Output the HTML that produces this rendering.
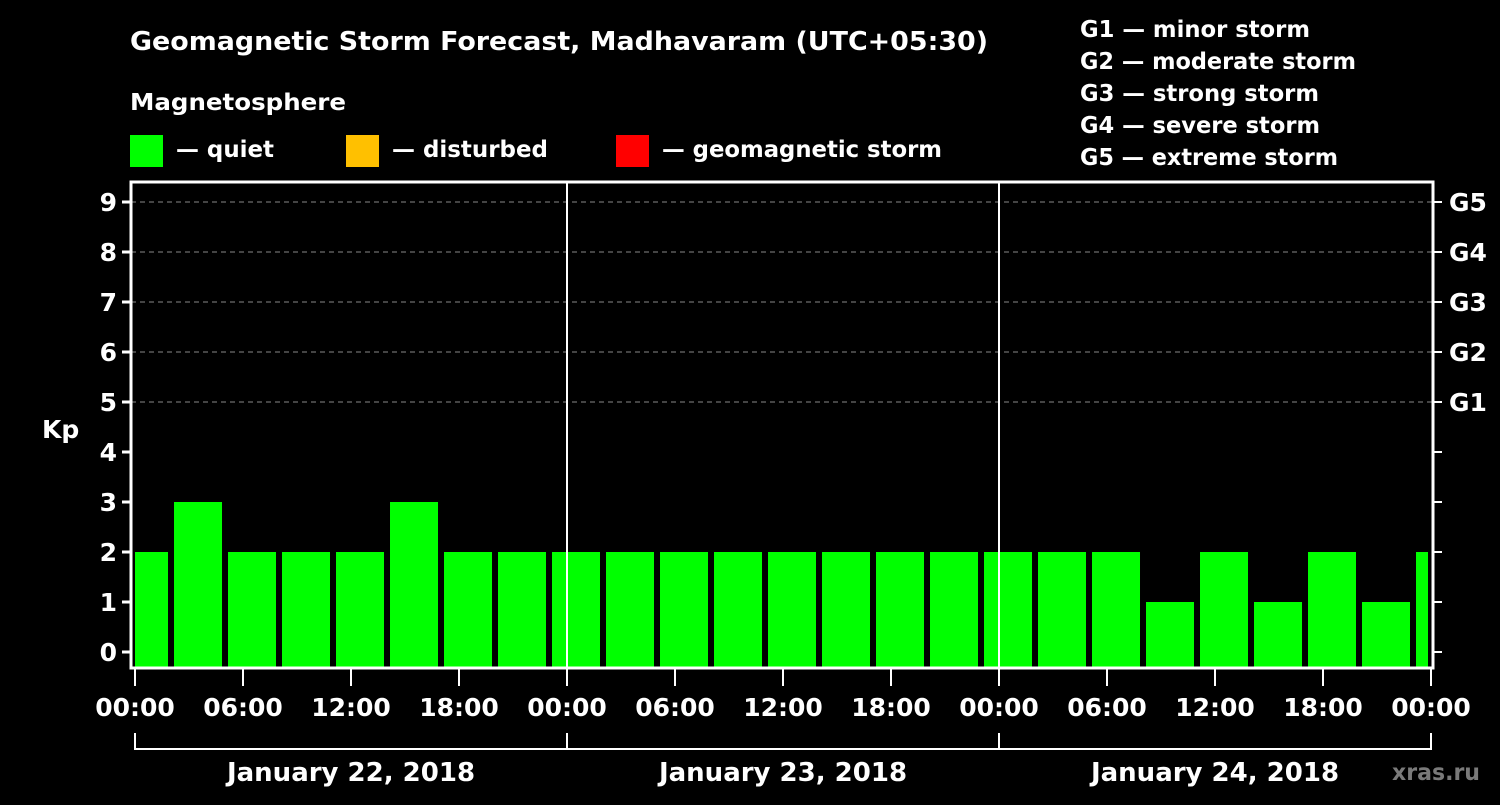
<!DOCTYPE html>
<html><head><meta charset="utf-8"><style>
body{margin:0;background:#000;}
svg text{font-family:"DejaVu Sans","Liberation Sans",Arial,sans-serif;font-weight:bold;fill:#fff;}
</style></head><body>
<svg width="1500" height="800" xmlns="http://www.w3.org/2000/svg">
<rect width="1500" height="800" fill="#000"/>
<text x="130" y="50" font-size="25.5" textLength="858" lengthAdjust="spacingAndGlyphs">Geomagnetic Storm Forecast, Madhavaram (UTC+05:30)</text>
<text x="130" y="110" font-size="23" textLength="216" lengthAdjust="spacingAndGlyphs">Magnetosphere</text>
<g>
<rect x="130" y="135" width="33" height="32" fill="#00ff00"/>
<text x="176" y="157" font-size="23" textLength="98" lengthAdjust="spacingAndGlyphs">— quiet</text>
<rect x="346" y="135" width="33" height="32" fill="#ffc000"/>
<text x="392" y="157" font-size="23" textLength="156" lengthAdjust="spacingAndGlyphs">— disturbed</text>
<rect x="616" y="135" width="33" height="32" fill="#ff0000"/>
<text x="662" y="157" font-size="23" textLength="280" lengthAdjust="spacingAndGlyphs">— geomagnetic storm</text>
</g>
<g font-size="23">
<text x="1080" y="37" textLength="230" lengthAdjust="spacingAndGlyphs">G1 — minor storm</text>
<text x="1080" y="69" textLength="276" lengthAdjust="spacingAndGlyphs">G2 — moderate storm</text>
<text x="1080" y="101" textLength="239" lengthAdjust="spacingAndGlyphs">G3 — strong storm</text>
<text x="1080" y="133" textLength="240" lengthAdjust="spacingAndGlyphs">G4 — severe storm</text>
<text x="1080" y="165" textLength="258" lengthAdjust="spacingAndGlyphs">G5 — extreme storm</text>
</g>
<text x="42" y="438" font-size="25">Kp</text>
<text x="1392" y="780" font-size="23" style="fill:#7a7a7a" textLength="88" lengthAdjust="spacingAndGlyphs">xras.ru</text>
<g id="grid"></g>
<g id="bars"></g>
<g id="axes"></g>
</svg>
<script>
const kpValues=[2,3,2,2,2,3,2,2,2,2,2,2,2,2,2,2,2,2,2,1,2,1,2,1,2];
const yTicks=[0,1,2,3,4,5,6,7,8,9];
const gLabels=["G1","G2","G3","G4","G5"];
const xTickLabels=["00:00","06:00","12:00","18:00","00:00","06:00","12:00","18:00","00:00","06:00","12:00","18:00","00:00"];
const dayLabels=["January 22, 2018","January 23, 2018","January 24, 2018"];
const NS="http://www.w3.org/2000/svg";
const L=131,R=1433,T=182,B=668;
const y=k=>652-50*k;
const x=h=>135+18*h;
function mk(t,a,p){const e=document.createElementNS(NS,t);for(const k in a)e.setAttribute(k,a[k]);(p||document.querySelector('svg')).appendChild(e);return e;}
const grid=document.getElementById('grid'),bars=document.getElementById('bars'),axes=document.getElementById('axes');
yTicks.forEach(k=>{
 if(k>=5){const g=mk('line',{x1:L,x2:R,y1:y(k),y2:y(k),stroke:'#888','stroke-dasharray':'5,4','stroke-width':1},grid);
 }
 const t=mk('line',{x1:L-9,x2:L,y1:y(k),y2:y(k),stroke:'#fff','stroke-width':3},axes);
 
 const t2=mk('line',{x1:R,x2:R+9,y1:y(k),y2:y(k),stroke:'#fff','stroke-width':2},axes);
 
 const lb=mk('text',{x:L-14,y:y(k)+9,'font-size':25,'text-anchor':'end'},axes);lb.textContent=k;
 
});
gLabels.forEach((g,i)=>{const lb=mk('text',{x:1449,y:y(5+i)+9,'font-size':25},axes);lb.textContent=g;
 });
kpValues.forEach((v,i)=>{
 let x0=x(3*i-0.833),x1=x0+48;x0=Math.max(x0,L+4);x1=Math.min(x1,R-5);
 const c=v>=5?'#ff0000':(v>=4?'#ffc000':'#00ff00');
 const r=mk('rect',{x:x0,y:y(v),width:x1-x0,height:B-y(v),fill:c},bars);
 
});
[1,2].forEach(d=>{const l=mk('line',{x1:x(24*d),x2:x(24*d),y1:T,y2:B,stroke:'#fff','stroke-width':2},axes);
 });
const fr=mk('rect',{x:L,y:T,width:R-L,height:B-T,fill:'none',stroke:'#fff','stroke-width':3},axes);

xTickLabels.forEach((s,i)=>{const px=x(6*i);
 const t=mk('line',{x1:px,x2:px,y1:B,y2:B+18,stroke:'#fff','stroke-width':2},axes);
 
 const lb=mk('text',{x:px,y:716,'font-size':25,'text-anchor':'middle'},axes);lb.textContent=s;
 });
const br=mk('line',{x1:x(0),x2:x(72),y1:749,y2:749,stroke:'#fff','stroke-width':2},axes);

[0,1,2,3].forEach(d=>{const l=mk('line',{x1:x(24*d),x2:x(24*d),y1:733,y2:750,stroke:'#fff','stroke-width':2},axes);
 });
dayLabels.forEach((s,d)=>{const lb=mk('text',{x:x(24*d+12),y:781,'font-size':26,'text-anchor':'middle'},axes);lb.textContent=s;
 });
</script>
</body></html>
